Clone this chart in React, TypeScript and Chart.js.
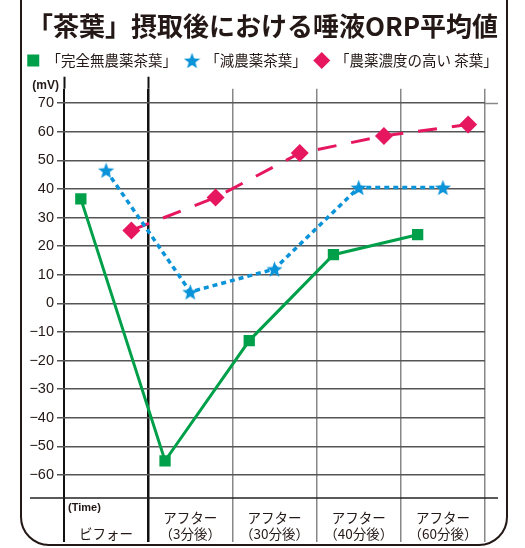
import { useEffect, useRef } from 'react';
import { Chart, registerables } from 'chart.js';
Chart.register(...registerables);

// ---- data ----
const categories: string[][] = [
  ['', 'ビフォー'],
  ['アフター', '（3分後）'],
  ['アフター', '（30分後）'],
  ['アフター', '（40分後）'],
  ['アフター', '（60分後）'],
];
const titleText = '「茶葉」摂取後における唾液ORP平均値';
const seriesNames = ['「完全無農薬茶葉」', '「減農薬茶葉」', '「農薬濃度の高い 茶葉」'];
const organicValues = [36.5, -55, -13, 17, 24];
const lowPesticideValues = [46.5, 4, 12, 40.5, 40.5];
const highPesticideValues = [25.5, 37, 52.5, 58.5, 62.5];
const yTicks = [70, 60, 50, 40, 30, 20, 10, 0, -10, -20, -30, -40, -50, -60];
const yUnit = '(mV)';
const xUnit = '(Time)';

// ---- styles ----
const GREEN = '#00a04a';
const BLUE = '#0a93d8';
const PINK = '#e6175f';
const INK = '#231815';
const JP = '"Noto Sans CJK JP", "Noto Sans", sans-serif';
const LAT = '"Liberation Sans", Arial, sans-serif';

function makeStar(size: number, color: string) {
  const c = document.createElement('canvas');
  c.width = size;
  c.height = size;
  const g = c.getContext('2d')!;
  g.fillStyle = color;
  g.beginPath();
  const cx = size / 2, cy = size / 2 + size * 0.05, R = size / 2, r = R * 0.42;
  for (let k = 0; k < 10; k++) {
    const a = -Math.PI / 2 + (k * Math.PI) / 5;
    const rad = k % 2 === 0 ? R : r;
    g.lineTo(cx + rad * Math.cos(a), cy + rad * Math.sin(a));
  }
  g.closePath();
  g.fill();
  return c;
}

const toPoints = (vals: number[], offset: number) => vals.map((v, i) => ({ x: i + offset, y: v }));

const decorPlugin = {
  id: 'decor',
  beforeDraw(chart: any) {
    const { ctx } = chart;
    ctx.save();
    ctx.fillStyle = '#fff';
    ctx.fillRect(0, 0, chart.width, chart.height);
    ctx.strokeStyle = INK;
    ctx.lineWidth = 2;
    ctx.beginPath();
    ctx.roundRect(21, -40, 486, 585, 28);
    ctx.stroke();
    ctx.restore();
  },
  afterDraw(chart: any) {
    const { ctx, chartArea: a, scales } = chart;
    ctx.save();
    ctx.strokeStyle = '#111';
    ctx.lineWidth = 2;
    [0, 1].forEach((v) => {
      const x = Math.round(scales.x.getPixelForValue(v)) + 0.5;
      ctx.beginPath();
      ctx.moveTo(x, a.top - 12);
      ctx.lineTo(x, a.top);
      ctx.stroke();
    });
    ctx.strokeStyle = '#222';
    ctx.lineWidth = 1.5;
    ctx.beginPath();
    ctx.moveTo(a.left - 34, a.bottom);
    ctx.lineTo(a.right + 13, a.bottom);
    ctx.stroke();
    ctx.strokeStyle = '#888';
    const yt = Math.round(scales.y.getPixelForValue(yTicks[0])) + 0.5;
    ctx.beginPath();
    ctx.moveTo(a.right, yt);
    ctx.lineTo(a.right + 13, yt);
    ctx.stroke();
    ctx.fillStyle = INK;
    ctx.font = `bold 12px ${LAT}`;
    ctx.textAlign = 'right';
    ctx.textBaseline = 'middle';
    ctx.fillText(yUnit, a.left - 5, a.top - 3);
    ctx.textAlign = 'left';
    ctx.font = `bold 11px ${LAT}`;
    ctx.fillText(xUnit, a.left + 4, a.bottom + 10);
    ctx.restore();
  },
};

export default function App() {
  const ref = useRef<HTMLCanvasElement>(null);
  useEffect(() => {
    const star = makeStar(17, BLUE);
    const chart = new Chart(ref.current!, {
      type: 'line',
      data: {
        datasets: [
          {
            label: seriesNames[0],
            data: toPoints(organicValues, 0.2),
            borderColor: GREEN,
            backgroundColor: GREEN,
            borderWidth: 3,
            pointStyle: 'rect',
            pointRadius: 8,
            pointBorderWidth: 0,
            pointBackgroundColor: GREEN,
          },
          {
            label: seriesNames[1],
            data: toPoints(lowPesticideValues, 0.5),
            borderColor: BLUE,
            backgroundColor: BLUE,
            borderWidth: 3.5,
            borderDash: [5, 4],
            pointStyle: star as any,
            pointRadius: 9,
            pointBorderWidth: 0,
            pointBackgroundColor: BLUE,
          },
          {
            label: seriesNames[2],
            data: toPoints(highPesticideValues, 0.8),
            borderColor: PINK,
            backgroundColor: PINK,
            borderWidth: 3,
            borderDash: [19, 15],
            pointStyle: 'rectRot',
            pointRadius: 9,
            pointBorderWidth: 0,
            pointBackgroundColor: PINK,
          },
        ],
      },
      options: {
        animation: false,
        responsive: false,
        layout: { padding: { left: 10, right: 10, bottom: 4, top: 2 } },
        plugins: {
          title: {
            display: true,
            text: titleText,
            color: INK,
            font: { family: JP, size: 26, weight: 'bold' },
            padding: { top: 9, bottom: 2 },
          },
          legend: {
            display: true,
            labels: {
              usePointStyle: true,
              boxWidth: 12,
              boxHeight: 12,
              padding: 9,
              color: INK,
              font: { family: JP, size: 14.5 },
            },
          },
          tooltip: { enabled: false },
        },
        scales: {
          x: {
            type: 'linear',
            min: 0,
            max: 5,
            afterBuildTicks: (s: any) => {
              s.ticks = categories.map((_, i) => ({ value: i + 0.5 }));
            },
            afterFit: (s: any) => {
              s.height = 46;
            },
            border: { display: false },
            grid: {
              offset: true,
              drawTicks: true,
              tickLength: 44,
              color: (c: any) => (c.index === 0 || c.index === 1 ? '#111' : '#888'),
              lineWidth: (c: any) => (c.index === 1 ? 2.5 : c.index === 0 ? 2 : 1.5),
            },
            ticks: {
              padding: -32,
              color: INK,
              font: { family: JP, size: 13.5 },
              callback: (v: any) => categories[Math.floor(Number(v))],
            },
          },
          xTop: {
            type: 'linear',
            position: 'top',
            display: true,
            grid: { display: false },
            border: { display: false },
            ticks: { display: false },
            afterFit: (s: any) => {
              s.height = 11;
            },
          },
          y: {
            type: 'linear',
            min: -68,
            max: 75,
            afterBuildTicks: (s: any) => {
              s.ticks = yTicks.map((v) => ({ value: v }));
            },
            afterFit: (s: any) => {
              s.width = 54;
            },
            border: { display: false },
            grid: {
              color: '#555',
              lineWidth: 1.5,
              tickLength: 7,
            },
            ticks: {
              padding: 3,
              color: INK,
              font: { family: LAT, size: 14.5 },
              callback: (v: any) => (Number(v) < 0 ? '\u2212' + Math.abs(Number(v)) : String(v)),
            },
          },
          yRight: {
            type: 'linear',
            position: 'right',
            display: true,
            grid: { display: false },
            border: { display: false },
            ticks: { display: false },
            afterFit: (s: any) => {
              s.width = 30;
            },
          },
        },
      },
      plugins: [decorPlugin],
    });
    return () => chart.destroy();
  }, []);
  return (
    <div style={{ position: 'fixed', left: 0, top: 0, width: 525, height: 548, background: '#fff' }}>
      <canvas ref={ref} width={525} height={548} style={{ display: 'block' }} />
    </div>
  );
}
